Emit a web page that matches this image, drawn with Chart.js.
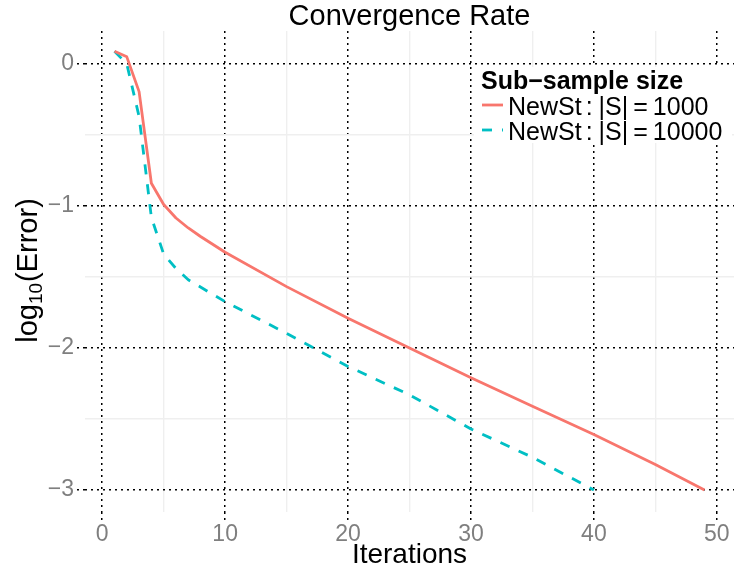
<!DOCTYPE html>
<html>
<head>
<meta charset="utf-8">
<script src="https://cdn.jsdelivr.net/npm/chart.js@4.4.0/dist/chart.umd.min.js"></script>
<style>
  html, body { margin: 0; padding: 0; background: #fff; }
  #c { display: block; }
</style>
</head>
<body>
<canvas id="c" width="738" height="574"></canvas>
<script>
// values
const redIter = [1, 2, 3, 4, 5, 6, 7, 8, 10, 15, 20, 25, 30, 35, 40, 45, 49];
const redErr = [0.09, 0.05, -0.195, -0.84, -0.99, -1.085, -1.155, -1.215, -1.326, -1.568, -1.79, -2.0, -2.21, -2.41, -2.61, -2.82, -3.0];
const cyanIter = [1, 2, 3, 4, 5, 6, 7, 10, 15, 20, 25, 30, 35, 40];
const cyanErr = [0.09, 0.0, -0.37, -1.08, -1.34, -1.44, -1.52, -1.674, -1.897, -2.13, -2.33, -2.57, -2.77, -3.0];

const xMajor = [0, 10, 20, 30, 40, 50];
const xMinor = [5, 15, 25, 35, 45];
const yMajor = [-3, -2, -1, 0];
const yMinor = [-2.5, -1.5, -0.5];

const seriesNames = ['NewSt : |S| = 1000', 'NewSt : |S| = 10000'];
const legendTitle = 'Sub\u2212sample size';

const RED = '#F8766D';
const CYAN = '#00BFC4';
const FONT = '"Liberation Sans", Arial, Helvetica, sans-serif';

function toPoints(xs, ys) {
    return xs.map((x, i) => ({ x: x, y: ys[i] }));
}

function gridOpts(major) {
    const isMajor = c => c.tick && major.includes(c.tick.value);
    return {
        color: c => isMajor(c) ? '#000000' : '#efefef',
        lineWidth: c => isMajor(c) ? 1.5 : 1.4,
        tickLength: 8,
        tickWidth: 1.5,
        tickColor: c => isMajor(c) ? '#000000' : 'rgba(0,0,0,0)',
        tickBorderDash: [2, 4]
    };
}

function borderOpts(major) {
    return {
        display: false,
        dash: c => (c.tick && major.includes(c.tick.value)) ? [2, 4] : []
    };
}

const decorPlugin = {
    id: 'ggDecor',
    afterDraw(chart) {
        const ctx = chart.ctx;
        const area = chart.chartArea;
        const cx = (area.left + area.right) / 2;
        ctx.save();
        ctx.fillStyle = '#000';

        // main title
        ctx.font = '29px ' + FONT;
        ctx.textAlign = 'center';
        ctx.textBaseline = 'alphabetic';
        ctx.fillText('Convergence Rate', cx, 25);

        // x title
        ctx.font = '28px ' + FONT;
        ctx.fillText('Iterations', cx, 563);

        // y title with subscript
        ctx.save();
        ctx.translate(37, (area.top + area.bottom) / 2 - 1);
        ctx.rotate(-Math.PI / 2);
        ctx.textAlign = 'left';
        const big = '29px ' + FONT, small = '19px ' + FONT;
        ctx.font = big;
        const w1 = ctx.measureText('log').width;
        const w3 = ctx.measureText('(Error)').width;
        ctx.font = small;
        const w2 = ctx.measureText('10').width;
        let x = -(w1 + w2 + w3 + 1) / 2;
        ctx.font = big;
        ctx.fillText('log', x, 0);
        x += w1;
        ctx.font = small;
        ctx.fillText('10', x, 5);
        x += w2 + 1;
        ctx.font = big;
        ctx.fillText('(Error)', x, 0);
        ctx.restore();

        // legend
        ctx.fillStyle = '#ffffff';
        ctx.fillRect(474, 67, 258, 76);
        ctx.fillStyle = '#000';
        ctx.textAlign = 'left';
        ctx.font = 'bold 25px ' + FONT;
        ctx.fillText(legendTitle, 481, 89);

        const colors = [RED, CYAN];
        const dashes = [[], [10, 10]];
        seriesNames.forEach((name, i) => {
            const y = 105 + i * 25;
            ctx.strokeStyle = colors[i];
            ctx.lineWidth = 2.8;
            ctx.setLineDash(dashes[i]);
            ctx.beginPath();
            ctx.moveTo(482, y);
            ctx.lineTo(503, y);
            ctx.stroke();
            ctx.setLineDash([]);

            ctx.fillStyle = '#000';
            ctx.font = '25px ' + FONT;
            const parts = name.split(' ');
            let px = 508;
            const gaps = [4, 6, 5, 5, 0];
            parts.forEach((p, k) => {
                ctx.fillText(p, px, y + 10);
                px += ctx.measureText(p).width + gaps[k];
            });
        });
        ctx.restore();
    }
};

new Chart(document.getElementById('c'), {
    type: 'line',
    data: {
        datasets: [{
            label: seriesNames[0],
            data: toPoints(redIter, redErr),
            borderColor: RED,
            borderWidth: 2.8,
            pointRadius: 0,
            tension: 0,
            borderJoinStyle: 'round'
        }, {
            label: seriesNames[1],
            data: toPoints(cyanIter, cyanErr),
            borderColor: CYAN,
            borderWidth: 2.8,
            borderDash: [10, 10],
            pointRadius: 0,
            tension: 0,
            borderJoinStyle: 'round'
        }]
    },
    options: {
        responsive: false,
        animation: false,
        devicePixelRatio: 1,
        layout: { padding: { top: 31, right: 4, left: 0, bottom: 0 } },
        plugins: {
            legend: { display: false },
            title: { display: false },
            tooltip: { enabled: false }
        },
        scales: {
            x: {
                type: 'linear',
                min: -1.4,
                max: 51.4,
                afterBuildTicks: s => {
                    s.ticks = xMajor.concat(xMinor).sort((a, b) => a - b).map(v => ({ value: v }));
                },
                afterFit: s => { s.height = 62; },
                grid: gridOpts(xMajor),
                border: borderOpts(xMajor),
                ticks: {
                    autoSkip: false,
                    maxRotation: 0,
                    padding: 1,
                    color: '#7f7f7f',
                    font: { family: FONT, size: 23 },
                    callback: v => xMajor.includes(v) ? String(v) : ''
                }
            },
            y: {
                type: 'linear',
                min: -3.155,
                max: 0.232,
                afterBuildTicks: s => {
                    s.ticks = yMajor.concat(yMinor).sort((a, b) => a - b).map(v => ({ value: v }));
                },
                afterFit: s => { s.width = 85; },
                grid: gridOpts(yMajor),
                border: borderOpts(yMajor),
                ticks: {
                    autoSkip: false,
                    padding: 3,
                    color: '#7f7f7f',
                    font: { family: FONT, size: 23 },
                    callback: v => yMajor.includes(v) ? String(v).replace('-', '\u2212') : ''
                }
            }
        }
    },
    plugins: [decorPlugin]
});
</script>
</body>
</html>
